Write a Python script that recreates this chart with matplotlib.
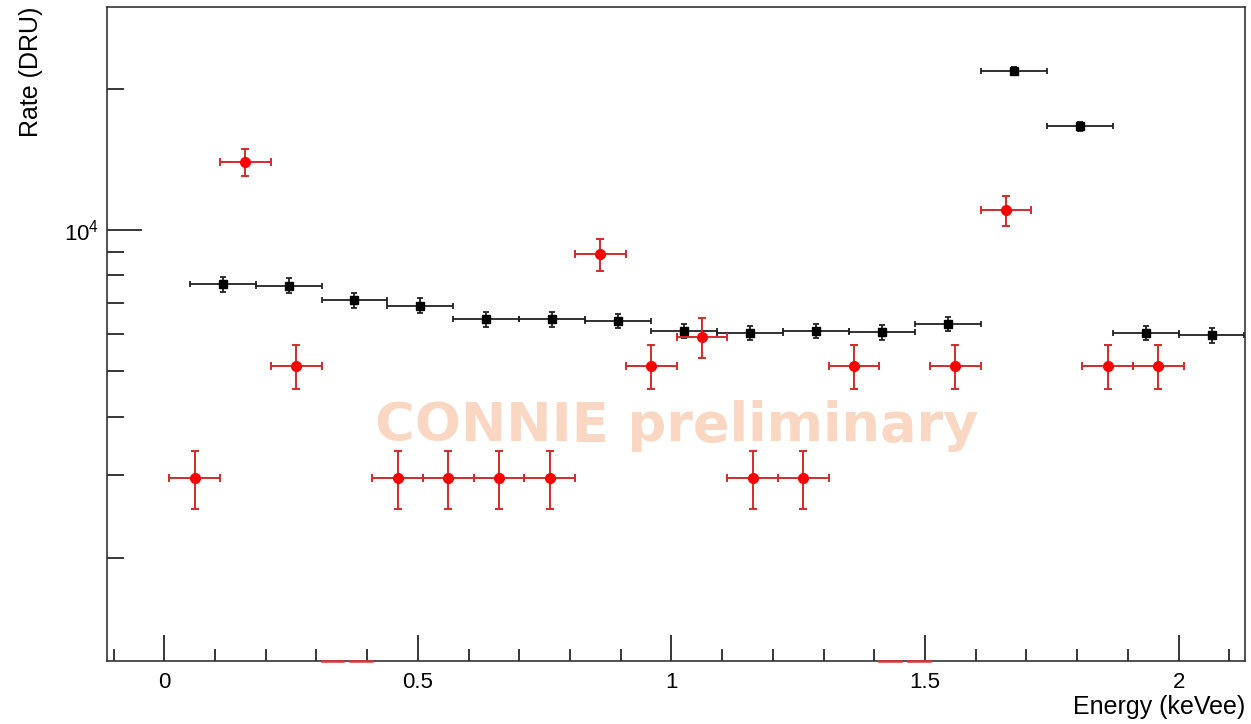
import numpy as np
import matplotlib.pyplot as plt
import matplotlib.transforms as mtransforms
from matplotlib.ticker import LogLocator, NullFormatter, MultipleLocator, FuncFormatter

plt.rcParams['font.family'] = ['Liberation Sans', 'DejaVu Sans']
plt.rcParams['mathtext.fontset'] = 'custom'
plt.rcParams['mathtext.rm'] = 'Liberation Sans'
plt.rcParams['mathtext.it'] = 'Liberation Sans:italic'

# red series, 0.1 keVee bins
red_x = [0.06, 0.16, 0.26, 0.46, 0.56, 0.66, 0.76, 0.86, 0.96, 1.06,
         1.16, 1.26, 1.36, 1.56, 1.66, 1.86, 1.96]
red_y = [2960, 13970, 5140, 2960, 2960, 2960, 2960, 8880, 5140, 5910,
         2960, 2960, 5140, 5140, 11030, 5140, 5140]
red_yerr = [420, 925, 560, 420, 420, 420, 420, 710, 560, 570,
            420, 420, 560, 560, 810, 560, 560]
red_xerr = 0.05
# red bins that fall below the plotted range
red_low_x = [0.36, 1.46]

# black series, 0.13 keVee bins
black_x = [0.115, 0.245, 0.375, 0.505, 0.635, 0.765, 0.895, 1.025,
           1.155, 1.285, 1.415, 1.545, 1.675, 1.805, 1.935, 2.065]
black_y = [7660, 7610, 7090, 6900, 6450, 6450, 6400, 6090,
           6040, 6090, 6050, 6300, 21830, 16640, 6040, 5960]
black_yerr = [280, 275, 255, 250, 225, 225, 225, 210,
              210, 210, 210, 220, 460, 350, 210, 210]
black_xerr = 0.065

fig = plt.figure(figsize=(12.51, 7.24), dpi=100)
ax = fig.add_axes([107/1251, 63/724, 1138/1251, 654/724])

ax.text(0.501, 0.336, 'CONNIE preliminary', transform=ax.transAxes,
        ha='center', va='baseline', fontsize=39, family='DejaVu Sans',
        weight='bold', color='#f9d7c2', zorder=0)

ax.errorbar(black_x, black_y, xerr=black_xerr, yerr=black_yerr, fmt='s',
            color='black', ms=5.5, ecolor='#222222', elinewidth=1.3,
            capsize=2.5, capthick=1.3, zorder=2)
ax.errorbar(red_x, red_y, xerr=red_xerr, yerr=red_yerr, fmt='o',
            mfc='#ff0000', mec='#ff0000', ms=7, ecolor='#d42b2b',
            elinewidth=1.4, capsize=3, capthick=1.4, zorder=3)

trans = mtransforms.blended_transform_factory(ax.transData, ax.transAxes)
for x in red_low_x:
    ax.plot([x - red_xerr, x - 0.007], [0, 0], transform=trans,
            color='#e83030', lw=1.8, clip_on=False, zorder=5)
    ax.plot([x + 0.007, x + red_xerr], [0, 0], transform=trans,
            color='#e83030', lw=1.8, clip_on=False, zorder=5)

ax.set_yscale('log')
ax.set_xlim(-0.113, 2.131)
ax.set_ylim(1205, 29900)

ax.xaxis.set_major_locator(MultipleLocator(0.5))
ax.xaxis.set_minor_locator(MultipleLocator(0.1))
ax.xaxis.set_major_formatter(FuncFormatter(lambda v, p: '%g' % v))
ax.yaxis.set_major_locator(LogLocator(base=10))
ax.yaxis.set_minor_locator(LogLocator(base=10, subs=np.arange(2, 10)))
ax.yaxis.set_minor_formatter(NullFormatter())

ax.tick_params(axis='x', which='major', direction='in', length=18.5,
               width=1.1, labelsize=16, pad=8, top=False)
ax.tick_params(axis='x', which='minor', direction='in', length=9,
               width=1.1, top=False)
ax.tick_params(axis='y', which='major', direction='in', length=25,
               width=1.1, labelsize=16, pad=6, right=False)
ax.tick_params(axis='y', which='minor', direction='in', length=12,
               width=1.1, right=False)

for s in ax.spines.values():
    s.set_linewidth(1.2)
    s.set_color('#333333')

ax.set_xlabel('Energy (keVee)', fontsize=18, loc='right')
ax.xaxis.set_label_coords(1.0, -0.052)
ax.set_ylabel('Rate (DRU)', fontsize=18, loc='top')
ax.yaxis.set_label_coords(-0.056, 1.0)

fig.savefig('out.png', dpi=100)
